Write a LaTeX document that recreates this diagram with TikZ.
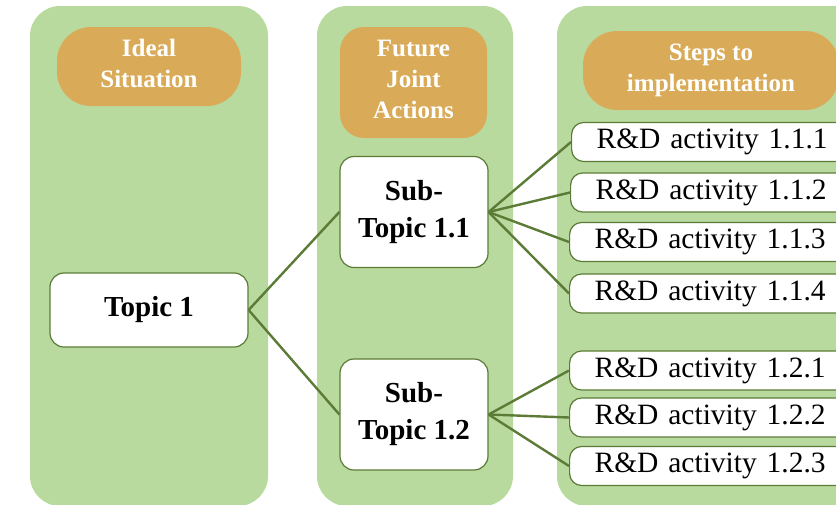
\documentclass[tikz,border=0pt]{standalone}
\usepackage{fontspec}
\setmainfont{Liberation Serif}

\definecolor{colgreen}{HTML}{B8DA9E}
\definecolor{headorange}{HTML}{D9AB58}
\definecolor{linegreen}{HTML}{5B7B36}

\tikzset{
  column/.style={fill=colgreen, rounded corners=30pt},
  header/.style={fill=headorange, text=white, align=center, inner sep=0pt,
    font=\fontsize{25}{31}\selectfont\bfseries},
  topicbox/.style={draw=linegreen, line width=1.2pt, fill=white, rounded corners=14pt,
    align=center, inner sep=0pt, font=\fontsize{29}{37}\selectfont\bfseries},
  actbox/.style={draw=linegreen, line width=1.2pt, fill=white, rounded corners=12pt,
    anchor=west, align=left, inner xsep=25pt, inner ysep=0pt, text width=250pt,
    minimum height=39pt, font=\fontsize{29.5}{34}\selectfont},
  link/.style={draw=linegreen, line width=2.4pt}
}

\begin{document}
\begin{tikzpicture}[x=1pt, y=-1pt]
\useasboundingbox (0, 0) rectangle (836, 504);
\clip (0, 0) rectangle (836, 504);

% Draw the three columns
\fill[column] (30, 6) rectangle (268, 506);
\fill[column] (317, 6) rectangle (513, 506);
\fill[column] (557, 6) rectangle (880, 506);

% Column headers
\node[header, rounded corners=34pt, minimum width=184pt, minimum height=79pt] (ideal) at (149, 66.5) {Ideal\\Situation\vphantom{g}};
\node[header, rounded corners=24pt, minimum width=147pt, minimum height=111pt] (future) at (413.5, 82.5) {Future\\Joint\\Actions\vphantom{g}};
\node[header, rounded corners=34pt, minimum width=256pt, minimum height=79pt] (steps) at (711, 70.5) {Steps to\\implementation};

% Topic and sub-topics
\node[topicbox, minimum width=198pt, minimum height=74pt] (topic) at (149, 310) {Topic 1};
\node[topicbox, minimum width=148pt, minimum height=111pt] (sub1) at (414, 212) {Sub-\\Topic 1.1};
\node[topicbox, minimum width=148pt, minimum height=111pt] (sub2) at (414, 414.5) {Sub-\\Topic 1.2};

% R&D activities
\node[actbox] (act111) at (571, 142) {R\&D activity 1.1.1};
\node[actbox] (act112) at (570, 192.5) {R\&D activity 1.1.2};
\node[actbox] (act113) at (569, 242) {R\&D activity 1.1.3};
\node[actbox] (act114) at (569, 293.5) {R\&D activity 1.1.4};
\node[actbox] (act121) at (569, 370.5) {R\&D activity 1.2.1};
\node[actbox] (act122) at (569, 417.5) {R\&D activity 1.2.2};
\node[actbox] (act123) at (569, 466) {R\&D activity 1.2.3};

% Connectors
\draw[link] (topic.east) -- (sub1.west);
\draw[link] (topic.east) -- (sub2.west);
\foreach \a in {111, 112, 113, 114}
  \draw[link] (sub1.east) -- (act\a.west);
\foreach \a in {121, 122, 123}
  \draw[link] (sub2.east) -- (act\a.west);
\end{tikzpicture}
\end{document}
